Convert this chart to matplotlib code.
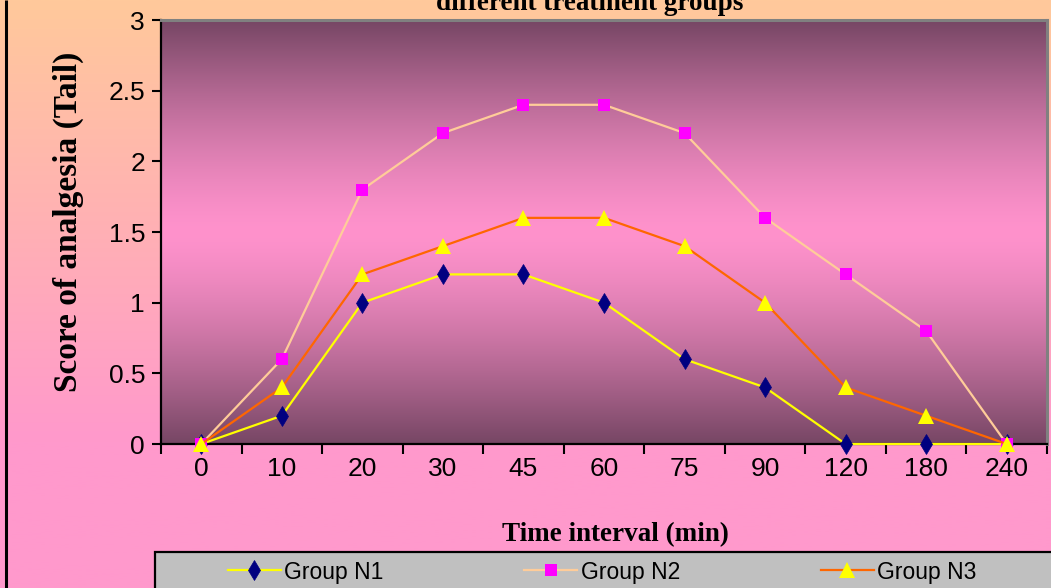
import numpy as np
import matplotlib
matplotlib.use("Agg")
import matplotlib.pyplot as plt
from matplotlib.patches import Rectangle

# ---- data ----
time_labels = ["0", "10", "20", "30", "45", "60", "75", "90", "120", "180", "240"]
group_n1 = [0, 0.2, 1.0, 1.2, 1.2, 1.0, 0.6, 0.4, 0, 0, 0]
group_n2 = [0, 0.6, 1.8, 2.2, 2.4, 2.4, 2.2, 1.6, 1.2, 0.8, 0]
group_n3 = [0, 0.4, 1.2, 1.4, 1.6, 1.6, 1.4, 1.0, 0.4, 0.2, 0]
series_names = ["Group N1", "Group N2", "Group N3"]
y_ticks = [0, 0.5, 1, 1.5, 2, 2.5, 3]
y_tick_labels = ["0", "0.5", "1", "1.5", "2", "2.5", "3"]

W, H = 1051, 588
fig = plt.figure(figsize=(W / 100, H / 100), dpi=100)

# ---- figure background: peach at top fading to pink ----
bg = fig.add_axes([0, 0, 1, 1], zorder=-10)
bg.set_axis_off()
t = np.clip(np.linspace(0, 1, 300) / 0.75, 0, 1)
top_c = np.array([255, 201, 155]) / 255
bot_c = np.array([255, 153, 204]) / 255
grad = top_c[None, :] * (1 - t[:, None]) + bot_c[None, :] * t[:, None]
bg.imshow(grad[:, None, :], aspect="auto", extent=[0, 1, 0, 1], origin="upper")
bg.set_xlim(0, 1)
bg.set_ylim(0, 1)
# black edge line on the left
bg.plot([6 / W, 6 / W], [0, 1], color="black", lw=2.2, solid_capstyle="butt")
# grey legend band along the bottom
bg.add_patch(Rectangle((155 / W, -0.02), (1070 - 155) / W, 0.02 + 36 / H,
                       facecolor="#C0C0C0", edgecolor="black", lw=1.6, zorder=2))

# ---- plot area ----
left, right = 161 / W, 1047 / W
bottom, top = 1 - 444 / H, 1 - 20 / H
ax = fig.add_axes([left, bottom, right - left, top - bottom])

x = np.arange(len(time_labels))
ax.set_xlim(-0.5, len(time_labels) - 0.5)
ax.set_ylim(0, 3)

# plot area gradient: dark plum at top and bottom, bright pink in the middle
s = np.linspace(0, 1, 400)
w = (np.abs(s - 0.5) / 0.5) ** 1.4
dark = np.array([118, 70, 100]) / 255
bright = np.array([255, 146, 204]) / 255
pg = bright[None, :] * (1 - w[:, None]) + dark[None, :] * w[:, None]
ax.imshow(pg[:, None, :], aspect="auto", extent=[-0.5, len(time_labels) - 0.5, 0, 3],
          origin="upper", zorder=0)

ax.plot(x, group_n1, color="#FFFF00", lw=1.6, marker="d", markersize=10,
        markerfacecolor="#000080", markeredgecolor="#000080", markeredgewidth=0.5,
        label=series_names[0], zorder=3, clip_on=False)
ax.plot(x, group_n2, color="#FFCC99", lw=1.6, marker="s", markersize=8,
        markerfacecolor="#FF00FF", markeredgecolor="#FF00FF", markeredgewidth=0,
        label=series_names[1], zorder=4, clip_on=False)
ax.plot(x, group_n3, color="#FF6600", lw=1.6, marker="^", markersize=11,
        markerfacecolor="#FFFF00", markeredgecolor="#FFFF00", markeredgewidth=0,
        label=series_names[2], zorder=5, clip_on=False)

# spines
for side in ("left", "bottom"):
    ax.spines[side].set_color("black")
    ax.spines[side].set_linewidth(1.6)
for side in ("top", "right"):
    ax.spines[side].set_color("#808080")
    ax.spines[side].set_linewidth(2.2)

# x ticks between categories, labels centred on categories
ax.set_xticks(np.arange(-0.5, len(time_labels)), labels=[""] * (len(time_labels) + 1))
ax.set_xticks(x, labels=time_labels, minor=True)
ax.tick_params(axis="x", which="major", direction="out", length=7.5, width=1.5, color="black")
ax.tick_params(axis="x", which="minor", length=0, pad=9, labelsize=19)
ax.set_yticks(y_ticks, labels=y_tick_labels)
ax.tick_params(axis="y", direction="out", length=6.5, width=1.5, color="black",
               pad=5, labelsize=19)
for lab in ax.get_xticklabels(minor=True) + ax.get_yticklabels():
    lab.set_fontfamily("Liberation Sans")

# titles and axis labels
fig.text(590 / W, 1 - 10 / H, "different treatment groups", ha="center", va="baseline",
         fontsize=19.5, fontweight="bold", family="Liberation Serif")
fig.text(615 / W, 1 - 535 / H, "Time interval (min)", ha="center", va="center",
         fontsize=19.5, fontweight="bold", family="Liberation Serif")
fig.text(68 / W, 1 - 222 / H, "Score of analgesia (Tail)", ha="center", va="center",
         rotation=90, fontsize=24, fontweight="bold", family="Liberation Serif")

# legend inside the grey band
handles, labels = ax.get_legend_handles_labels()
leg = fig.legend(handles, labels, loc="center left", ncol=3,
                 bbox_to_anchor=(228 / W, 1 - 572 / H),
                 prop={"family": "Liberation Sans", "size": 16.5},
                 frameon=False, handlelength=2.3, handletextpad=0.15,
                 columnspacing=6.15, borderpad=0, borderaxespad=0)
leg.set_zorder(5)

fig.savefig("out.png", dpi=100)
